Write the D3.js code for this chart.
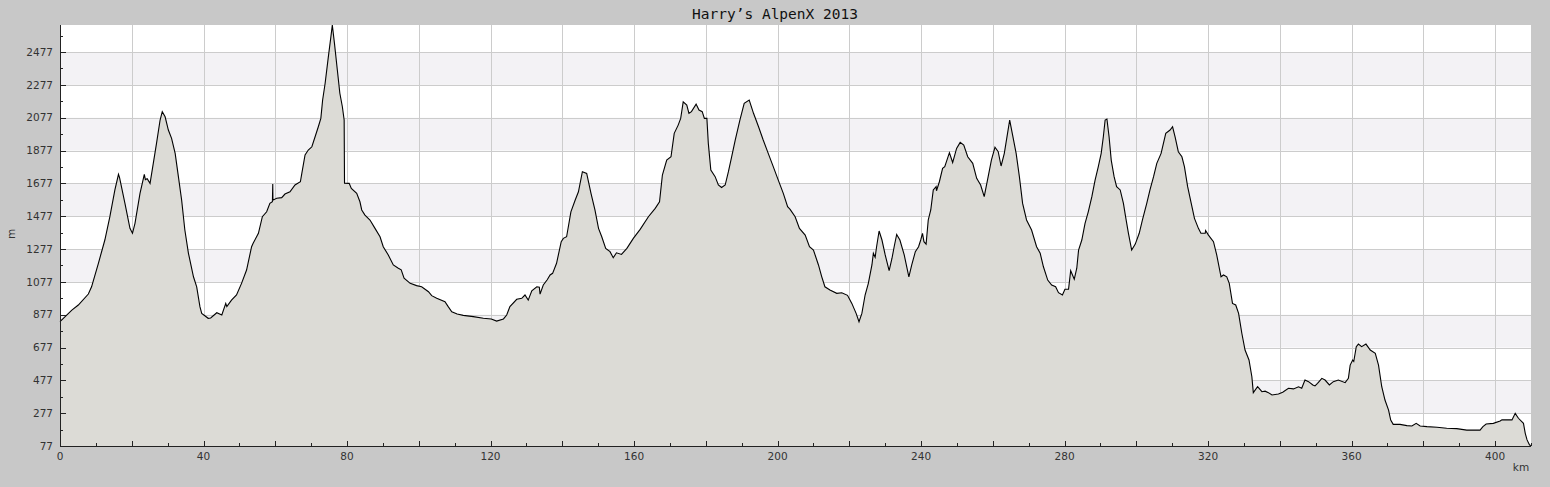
<!DOCTYPE html>
<html><head><meta charset="utf-8">
<script src="https://cdn.jsdelivr.net/npm/d3@7/dist/d3.min.js"></script>
<style>
html,body{margin:0;padding:0;background:#c8c8c8;}
svg{display:block;}
</style></head>
<body>
<svg id="chart" width="1550" height="487"></svg>
<script>
const title = "Harry’s AlpenX 2013";
const xLabel = "km";
const yLabel = "m";
const xTicks = [0,40,80,120,160,200,240,280,320,360,400];
const yTicks = [77,277,477,677,877,1077,1277,1477,1677,1877,2077,2277,2477];
const km = [0,3.3,5.1,7.9,8.8,10.7,12.5,13.9,15.3,16.3,16.6,18.1,19.5,20.2,20.9,22.3,23.5,23.8,24.3,25.1,26.0,26.9,27.9,28.5,29.3,30.2,31.1,32.1,33.0,33.9,34.8,35.8,37.2,38.1,39.0,39.5,41.3,42.0,43.7,45.1,46.2,46.5,47.8,49.2,50.6,52.0,53.4,53.8,55.3,56.4,57.6,58.5,59.2,59.3,59.35,60.4,61.8,62.7,64.1,65.5,67.0,67.4,68.3,69.2,70.2,71.1,72.0,72.7,73.2,73.9,74.8,75.5,75.9,76.5,77.3,78.0,78.7,79.2,79.3,80.6,81.2,82.7,83.6,84.1,85.0,86.4,87.8,89.2,90.1,91.5,92.9,94.3,95.1,95.9,97.6,99.4,100.8,102.7,103.6,105.0,107.3,108.2,109.2,110.7,112.4,115.2,118.0,120.2,121.7,123.6,124.5,125.4,127.3,128.7,129.6,130.5,131.5,132.9,133.6,133.8,134.7,135.8,136.6,137.3,138.4,139.7,140.3,141.2,142.4,143.6,144.5,145.6,146.8,148.0,149.1,150.1,151.0,152.1,153.3,154.2,155.1,156.5,158.0,159.8,161.7,164.0,165.9,167.1,167.9,169.1,170.3,171.2,172.3,173.0,173.7,174.7,175.3,176.0,177.3,178.1,179.0,179.6,180.3,180.7,181.4,182.6,183.5,184.4,185.4,186.3,187.2,188.2,189.5,190.7,192.1,193.3,194.7,196.0,197.4,198.8,200.2,201.6,202.8,203.5,204.9,206.1,207.7,208.9,210.0,211.4,212.3,213.2,214.6,216.5,217.9,219.5,220.7,221.9,222.7,223.5,224.4,225.3,226.3,226.7,227.2,227.6,228.3,229.1,230.0,231.1,231.9,232.5,233.2,234.1,235.3,236.6,237.4,238.4,239.3,239.9,240.4,240.8,241.4,242.0,242.7,243.4,244.2,244.3,245.1,246.0,246.6,247.9,248.8,249.9,250.9,251.9,253.0,254.4,255.5,256.6,257.6,258.7,259.6,260.6,261.5,262.3,263.2,264.1,264.7,265.5,266.5,267.4,268.3,269.4,270.8,272.2,273.2,274.1,275.3,276.4,277.5,278.3,279.4,280.1,281.1,281.7,282.7,283.4,283.9,284.8,285.7,286.6,287.6,288.5,289.4,290.2,290.8,291.3,291.8,292.4,293.0,293.8,294.5,295.5,296.4,297.0,297.8,298.7,299.7,300.8,301.7,302.9,303.8,304.8,305.7,306.9,308.2,309.4,310.1,310.8,311.7,312.7,313.4,314.3,315.3,316.2,317.3,318.0,319.2,319.3,320.1,321.5,322.4,323.6,324.3,325.2,325.9,326.8,327.7,328.5,329.4,330.3,331.4,332.2,332.6,333.8,335.0,335.9,336.8,337.8,339.6,340.8,342.4,343.8,345.2,346.1,347.0,348.0,349.2,349.8,350.5,351.7,352.6,353.8,354.9,356.3,358.2,359.1,359.6,360.3,360.6,361.3,361.9,362.8,364.0,365.2,366.6,367.5,368.4,369.3,370.3,370.9,371.6,373.5,375.4,376.8,378.0,379.1,381.0,383.8,386.5,389.3,392.1,395.8,396.6,397.5,399.5,401.4,401.9,404.7,405.6,406.5,407.9,408.4,408.9,409.6,410];
const elevation = [835,905,936,1003,1047,1190,1332,1474,1637,1732,1712,1555,1403,1373,1434,1616,1732,1700,1705,1677,1799,1921,2063,2114,2083,2002,1951,1860,1718,1576,1393,1251,1108,1047,926,885,855,857,889,875,946,926,966,997,1068,1149,1291,1311,1373,1474,1504,1555,1565,1673,1575,1586,1590,1612,1626,1667,1687,1738,1850,1880,1900,1961,2022,2073,2185,2287,2449,2570,2642,2530,2368,2226,2144,2063,1678,1677,1646,1616,1565,1515,1484,1454,1403,1352,1291,1241,1180,1160,1150,1099,1068,1054,1047,1017,993,977,956,926,895,881,873,865,855,851,838,851,875,926,971,977,997,966,1023,1047,1045,1002,1058,1090,1119,1129,1190,1322,1342,1352,1504,1576,1626,1748,1738,1616,1515,1403,1352,1281,1261,1224,1254,1244,1281,1342,1397,1474,1525,1565,1728,1819,1839,1982,2032,2073,2174,2154,2104,2114,2160,2124,2114,2073,2073,1921,1758,1718,1667,1652,1667,1748,1839,1941,2063,2165,2185,2104,2022,1941,1860,1779,1697,1616,1535,1519,1474,1403,1362,1291,1271,1180,1109,1047,1027,1007,1011,995,946,885,834,885,997,1068,1180,1251,1227,1291,1387,1332,1241,1145,1221,1291,1366,1332,1241,1108,1180,1261,1291,1332,1373,1322,1307,1454,1515,1637,1657,1632,1687,1769,1779,1864,1804,1890,1927,1910,1839,1799,1708,1667,1596,1718,1819,1897,1870,1783,1860,1982,2063,1972,1860,1718,1555,1454,1393,1291,1251,1169,1088,1058,1047,1011,997,1032,1032,1145,1093,1160,1271,1332,1433,1504,1596,1697,1779,1860,1961,2063,2069,1961,1819,1718,1657,1637,1555,1474,1373,1271,1307,1373,1454,1555,1637,1718,1799,1860,1982,2002,2022,1961,1870,1839,1779,1657,1555,1464,1403,1373,1373,1390,1362,1322,1241,1108,1119,1108,1068,946,936,885,764,662,601,499,402,438,408,411,402,388,394,405,429,425,438,429,479,469,449,443,459,489,479,449,469,479,463,489,570,601,592,682,698,682,698,662,642,570,438,357,296,235,209,209,201,199,215,199,195,191,185,183,174,174,195,211,215,229,236,236,276,246,215,154,114,83,80];

const svg = d3.select("#chart");
const L = 60, R = 1531, T = 25, B = 446;
const x = d3.scaleLinear().domain([0, 410]).range([L, R]);
const y = d3.scaleLinear().domain([77, 2642]).range([B, T]);
const data = km.map((k, i) => ({k, e: elevation[i]}));

// plot background
svg.append("rect").attr("x", L).attr("y", T).attr("width", R - L).attr("height", B - T).attr("fill", "#ffffff");
// alternating bands
for (let i = 0; i < yTicks.length - 1; i++) {
  if ((yTicks.length - 2 - i) % 2 === 0) {
    svg.append("rect").attr("x", L).attr("width", R - L)
      .attr("y", y(yTicks[i + 1])).attr("height", y(yTicks[i]) - y(yTicks[i + 1]))
      .attr("fill", "#f3f2f5");
  }
}
// grid
const grid = svg.append("g").attr("stroke", "#cccccc").attr("stroke-width", 1).attr("shape-rendering", "crispEdges");
d3.range(20, 410, 20).forEach(v => {
  grid.append("line").attr("x1", Math.round(x(v)) + 0.5).attr("x2", Math.round(x(v)) + 0.5).attr("y1", T).attr("y2", B);
});
yTicks.slice(1).forEach(v => {
  grid.append("line").attr("x1", L).attr("x2", R).attr("y1", Math.round(y(v)) + 0.5).attr("y2", Math.round(y(v)) + 0.5);
});

// area and line
const area = d3.area().x(d => x(d.k)).y0(B).y1(d => y(d.e));
const line = d3.line().x(d => x(d.k)).y(d => y(d.e));
svg.append("path").datum(data).attr("d", area).attr("fill", "#dcdbd6");
svg.append("path").datum(data).attr("d", line).attr("fill", "none").attr("stroke", "#000").attr("stroke-width", 1.1);

// axes
const ax = svg.append("g").attr("stroke", "#222").attr("shape-rendering", "crispEdges");
ax.append("line").attr("x1", L + 0.5).attr("x2", L + 0.5).attr("y1", T).attr("y2", B + 1);
ax.append("line").attr("x1", L).attr("x2", R).attr("y1", B + 0.5).attr("y2", B + 0.5);
d3.range(0, 411, 10).forEach(v => {
  const major = v % 20 === 0;
  const xx = Math.round(x(v)) + 0.5;
  ax.append("line").attr("x1", xx).attr("x2", xx).attr("y1", B).attr("y2", B - (major ? 5 : 3));
});
d3.range(77, 2642, 100).forEach((v, i) => {
  const major = i % 2 === 0;
  const yy = Math.round(y(v)) + 0.5;
  ax.append("line").attr("x1", L).attr("x2", L + (major ? 6 : 3)).attr("y1", yy).attr("y2", yy);
});

// labels
const lab = svg.append("g").attr("font-family", "DejaVu Sans, sans-serif").attr("font-size", 10.5).attr("fill", "#333");
yTicks.forEach(v => {
  lab.append("text").attr("x", 53).attr("y", y(v)).attr("dy", "0.35em").attr("text-anchor", "end").text(v);
});
xTicks.forEach(v => {
  lab.append("text").attr("x", x(v)).attr("y", 460).attr("text-anchor", "middle").text(v);
});
lab.append("text").attr("x", 1521).attr("y", 471).attr("text-anchor", "middle").text(xLabel);
lab.append("text").attr("transform", "translate(15,234) rotate(-90)").attr("text-anchor", "middle").text(yLabel);

svg.append("text").attr("x", 775).attr("y", 19).attr("text-anchor", "middle")
  .attr("font-family", "DejaVu Sans Mono, monospace").attr("font-size", 14.5).attr("fill", "#111")
  .text(title);
</script>
</body></html>
